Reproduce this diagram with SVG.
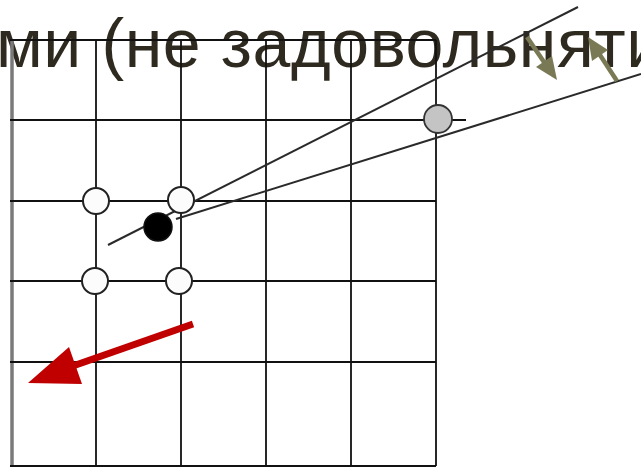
<svg xmlns="http://www.w3.org/2000/svg" width="641" height="469" viewBox="0 0 641 469">
<style>
.grid{stroke:#111;stroke-width:1.8;fill:none}
.ray{stroke:#2a2a2a;stroke-width:2;fill:none}
.wc{fill:#fcfcfc;stroke:#222;stroke-width:2}
.title{font-family:"Liberation Sans",Arial,sans-serif;font-size:68px;letter-spacing:0.6px;fill:#2e2a1f}
.olive{stroke:#7a7955;stroke-width:4.5;fill:none}
.olivehead{fill:#7a7955}
</style>
<rect width="641" height="469" fill="#fff"/>
<text id="title" class="title" x="-4" y="67">ми (не задовольняти</text>
<g id="grid">
<line x1="12" y1="40" x2="12" y2="466" stroke="#7a7a7a" stroke-width="3.5"/>
<path class="grid" d="M96 40V466M181 40V466M266 40V466M351 40V466M436 40V466M10 40H436M10 120H466M10 201H436M10 281H436M10 362H436M10 466H436"/>
</g>
<g id="connectors">
<line class="ray" x1="108" y1="245" x2="578" y2="7"/>
<line class="ray" x1="176" y1="219" x2="641" y2="74"/>
<g id="arrow-olive-1">
<line class="olive" x1="527" y1="37" x2="546" y2="65"/>
<polygon class="olivehead" points="557,80 552,56 536,67"/>
</g>
<g id="arrow-olive-2">
<line class="olive" x1="617" y1="81" x2="598" y2="52"/>
<polygon class="olivehead" points="588,37 592,61 608,50"/>
</g>
<g id="arrow-red">
<line x1="193" y1="324" x2="70" y2="367" stroke="#c00000" stroke-width="7"/>
<polygon points="28,383 69,347 82,384" fill="#c00000"/>
</g>
</g>
<g id="node-w1"><circle class="wc" cx="96" cy="201" r="13"/></g>
<g id="node-w2"><circle class="wc" cx="181" cy="200" r="13"/></g>
<g id="node-w3"><circle class="wc" cx="95" cy="281" r="13"/></g>
<g id="node-w4"><circle class="wc" cx="179" cy="281" r="13"/></g>
<g id="node-black"><circle cx="158" cy="227" r="14" fill="#000" stroke="#111" stroke-width="1.5"/></g>
<g id="node-gray"><circle cx="438" cy="119" r="14" fill="#c4c4c4" stroke="#333" stroke-width="1.8"/></g>
</svg>
